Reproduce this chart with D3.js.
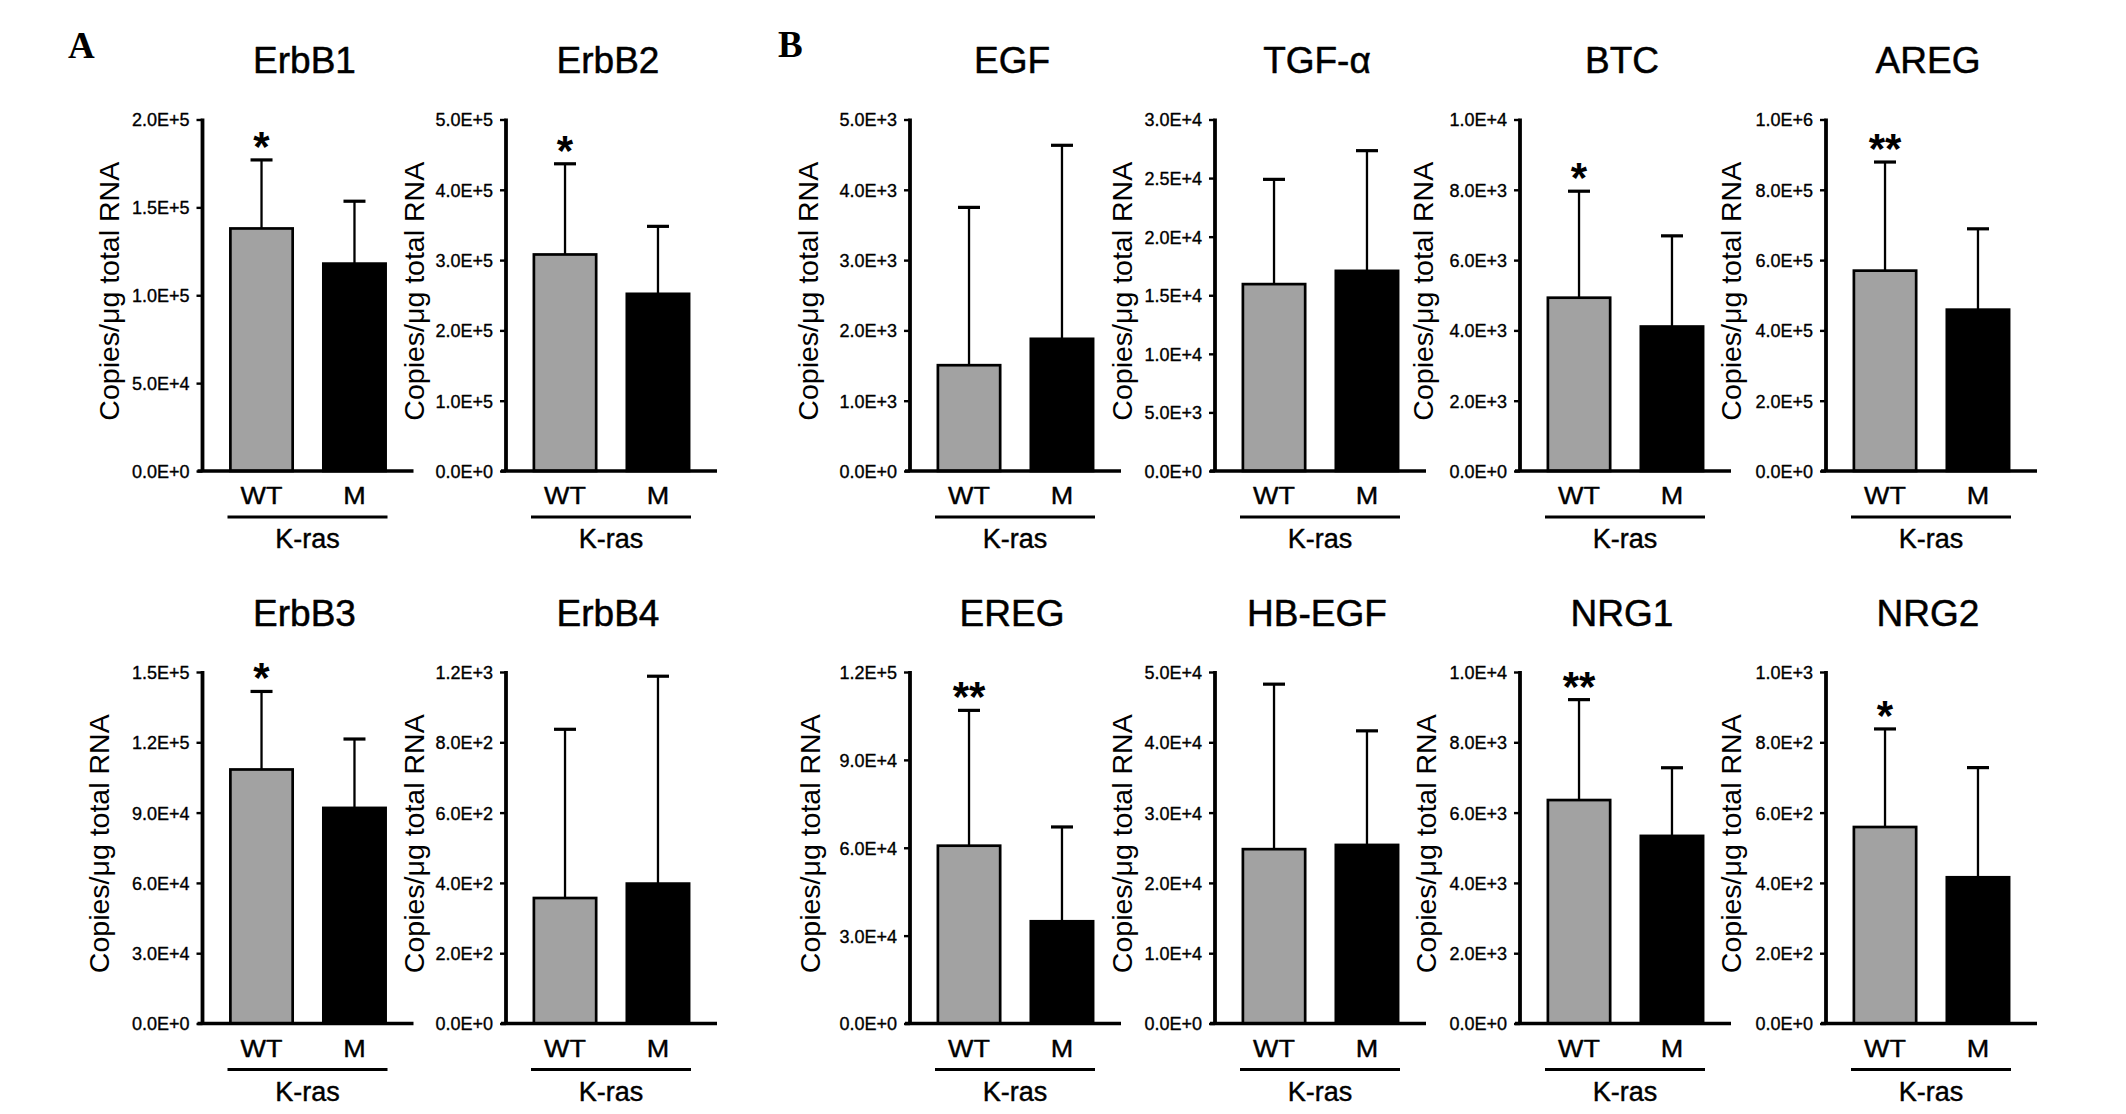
<!DOCTYPE html>
<html>
<head>
<meta charset="utf-8">
<script src="https://cdn.jsdelivr.net/npm/d3@7"></script>
<style>
  html, body { margin: 0; padding: 0; background: #fff; }
  svg { display: block; }
</style>
</head>
<body>
<div id="chart"></div>
<script>
// ---------------- DATA ----------------
const panelNames = ["ErbB1", "ErbB2", "EGF", "TGF-\u03b1", "BTC", "AREG",
                    "ErbB3", "ErbB4", "EREG", "HB-EGF", "NRG1", "NRG2"];
const groups = ["WT", "M"];
const wtMean = [1.38e5, 3.08e5, 1505, 15950, 4930, 5.70e5, 1.084e5, 357, 60700, 24800, 6357, 559];
const wtSD   = [0.39e5, 1.29e5, 2245,  8940, 3030, 3.09e5, 3.33e4, 480, 46200, 23470, 2857, 279];
const mMean  = [1.18e5, 2.52e5, 1880, 17080, 4110, 4.59e5, 9.2e4, 398, 34900, 25400, 5337, 416];
const mSD    = [0.355e5, 0.96e5, 2753, 10260, 2580, 2.30e5, 2.94e4, 590, 32200, 16230, 1939, 312];
const significance = ["*", "*", "", "", "*", "**", "*", "", "**", "", "**", "*"];
const yMax = [2e5, 5e5, 5e3, 3e4, 1e4, 1e6, 1.5e5, 1000, 1.2e5, 5e4, 1e4, 1e3];
const tickVals = [
  [0, 5e4, 1e5, 1.5e5, 2e5],
  [0, 1e5, 2e5, 3e5, 4e5, 5e5],
  [0, 1e3, 2e3, 3e3, 4e3, 5e3],
  [0, 5e3, 1e4, 1.5e4, 2e4, 2.5e4, 3e4],
  [0, 2e3, 4e3, 6e3, 8e3, 1e4],
  [0, 2e5, 4e5, 6e5, 8e5, 1e6],
  [0, 3e4, 6e4, 9e4, 1.2e5, 1.5e5],
  [0, 200, 400, 600, 800, 1000],
  [0, 3e4, 6e4, 9e4, 1.2e5],
  [0, 1e4, 2e4, 3e4, 4e4, 5e4],
  [0, 2e3, 4e3, 6e3, 8e3, 1e4],
  [0, 200, 400, 600, 800, 1000]
];
const tickLabels = [
  ["0.0E+0", "5.0E+4", "1.0E+5", "1.5E+5", "2.0E+5"],
  ["0.0E+0", "1.0E+5", "2.0E+5", "3.0E+5", "4.0E+5", "5.0E+5"],
  ["0.0E+0", "1.0E+3", "2.0E+3", "3.0E+3", "4.0E+3", "5.0E+3"],
  ["0.0E+0", "5.0E+3", "1.0E+4", "1.5E+4", "2.0E+4", "2.5E+4", "3.0E+4"],
  ["0.0E+0", "2.0E+3", "4.0E+3", "6.0E+3", "8.0E+3", "1.0E+4"],
  ["0.0E+0", "2.0E+5", "4.0E+5", "6.0E+5", "8.0E+5", "1.0E+6"],
  ["0.0E+0", "3.0E+4", "6.0E+4", "9.0E+4", "1.2E+5", "1.5E+5"],
  ["0.0E+0", "2.0E+2", "4.0E+2", "6.0E+2", "8.0E+2", "1.2E+3"],
  ["0.0E+0", "3.0E+4", "6.0E+4", "9.0E+4", "1.2E+5"],
  ["0.0E+0", "1.0E+4", "2.0E+4", "3.0E+4", "4.0E+4", "5.0E+4"],
  ["0.0E+0", "2.0E+3", "4.0E+3", "6.0E+3", "8.0E+3", "1.0E+4"],
  ["0.0E+0", "2.0E+2", "4.0E+2", "6.0E+2", "8.0E+2", "1.0E+3"]
];
const yAxisTitle = "Copies/\u03bcg total RNA";
const groupTitle = "K-ras";
const sectionLabels = ["A", "B"];

// ---------------- LAYOUT ----------------
const W = 2126, H = 1114;
const colX = [202.5, 506, 910, 1215, 1520, 1826];
const rowTop = [119.5, 672];
const rowBase = [471, 1023.5];
const labelOff = [-84, -82, -92, -83, -87, -85, -94, -82, -90, -83, -84, -85];
const sectionPos = [[68, 58], [778, 57]];
const plotW = 211;
const SANS = "'Liberation Sans', Arial, Helvetica, sans-serif";
const SERIF = "'Liberation Serif', 'Times New Roman', Times, serif";

const svg = d3.select("#chart").append("svg")
  .attr("width", W).attr("height", H)
  .attr("viewBox", `0 0 ${W} ${H}`);
svg.append("rect").attr("width", W).attr("height", H).attr("fill", "#fff");

sectionLabels.forEach((s, i) => {
  svg.append("text")
    .attr("x", sectionPos[i][0]).attr("y", sectionPos[i][1])
    .attr("font-family", SERIF).attr("font-weight", "bold")
    .attr("font-size", 37).attr("fill", "#000")
    .text(s);
});

function heavy(sel, w) {
  return sel.attr("stroke", "#000").attr("stroke-width", w).attr("stroke-linejoin", "round");
}

panelNames.forEach((name, i) => {
  const r = Math.floor(i / 6), c = i % 6;
  const x0 = colX[c], yT = rowTop[r], yB = rowBase[r];
  const y = d3.scaleLinear().domain([0, yMax[i]]).range([yB, yT]);
  const x = d3.scaleBand().domain(groups).range([x0, x0 + plotW])
    .paddingInner(0.33).paddingOuter(0.3);
  const bw = x.bandwidth();
  const g = svg.append("g");

  const vals = [
    { k: "WT", m: wtMean[i], s: wtSD[i] },
    { k: "M", m: mMean[i], s: mSD[i] }
  ];

  // error bars (upper only)
  vals.forEach(d => {
    const cx = x(d.k) + bw / 2;
    g.append("line")
      .attr("x1", cx).attr("x2", cx)
      .attr("y1", y(d.m)).attr("y2", y(d.m + d.s))
      .attr("stroke", "#000").attr("stroke-width", 2.3);
    g.append("line")
      .attr("x1", cx - 11).attr("x2", cx + 11)
      .attr("y1", y(d.m + d.s)).attr("y2", y(d.m + d.s))
      .attr("stroke", "#000").attr("stroke-width", 3.2);
  });

  // bars
  g.selectAll("rect.bar").data(vals).join("rect")
    .attr("class", "bar")
    .attr("x", d => x(d.k))
    .attr("width", bw)
    .attr("y", d => y(d.m))
    .attr("height", d => yB - y(d.m))
    .attr("fill", d => d.k === "WT" ? "#a2a2a2" : "#000")
    .attr("stroke", "#000")
    .attr("stroke-width", 2.7);

  // axis ticks & labels
  const ax = d3.axisLeft(y)
    .tickValues(tickVals[i])
    .tickFormat((d, j) => tickLabels[i][j])
    .tickSize(6)
    .tickPadding(7);
  const gA = g.append("g").attr("transform", `translate(${x0},0)`).call(ax);
  gA.select(".domain").remove();
  gA.selectAll(".tick line").attr("stroke", "#000").attr("stroke-width", 2.4);
  heavy(gA.selectAll(".tick text")
    .attr("dy", "0.36em")
    .attr("font-family", SANS)
    .attr("font-size", 18)
    .attr("fill", "#000"), 0.35);

  // y axis line
  g.append("line")
    .attr("x1", x0).attr("x2", x0)
    .attr("y1", yT - 1).attr("y2", yB)
    .attr("stroke", "#000").attr("stroke-width", 3.8);
  // x axis line
  g.append("line")
    .attr("x1", x0 - 5).attr("x2", x0 + plotW)
    .attr("y1", yB).attr("y2", yB)
    .attr("stroke", "#000").attr("stroke-width", 3.6);

  // title
  heavy(g.append("text")
    .attr("x", x0 + 102).attr("y", yT - 46.5)
    .attr("text-anchor", "middle")
    .attr("font-family", SANS).attr("font-size", 37).attr("fill", "#000")
    .text(name), 0.5);

  // group labels
  groups.forEach(k => {
    heavy(g.append("text")
      .attr("text-anchor", "middle")
      .attr("transform", `translate(${x(k) + bw / 2},${yB + 33}) scale(1.1,1)`)
      .attr("font-family", SANS).attr("font-size", 24.5).attr("fill", "#000")
      .text(k), 0.4);
  });

  // underline + K-ras
  g.append("line")
    .attr("x1", x0 + 25).attr("x2", x0 + 185)
    .attr("y1", yB + 46).attr("y2", yB + 46)
    .attr("stroke", "#000").attr("stroke-width", 3);
  heavy(g.append("text")
    .attr("x", x0 + 105).attr("y", yB + 77)
    .attr("text-anchor", "middle")
    .attr("font-family", SANS).attr("font-size", 27).attr("fill", "#000")
    .text(groupTitle), 0.4);

  // y axis title
  g.append("text")
    .attr("transform", `translate(${x0 + labelOff[i]},${(yT + yB) / 2 - 4}) rotate(-90)`)
    .attr("text-anchor", "middle")
    .attr("font-family", SANS).attr("font-size", 28.5).attr("fill", "#000")
    .text(yAxisTitle);

  // significance
  if (significance[i]) {
    g.append("text")
      .attr("x", x("WT") + bw / 2)
      .attr("y", y(wtMean[i] + wtSD[i]) + 1)
      .attr("text-anchor", "middle")
      .attr("font-family", SANS).attr("font-weight", "bold")
      .attr("font-size", 42).attr("fill", "#000")
      .text(significance[i]);
  }
});
</script>
</body>
</html>
